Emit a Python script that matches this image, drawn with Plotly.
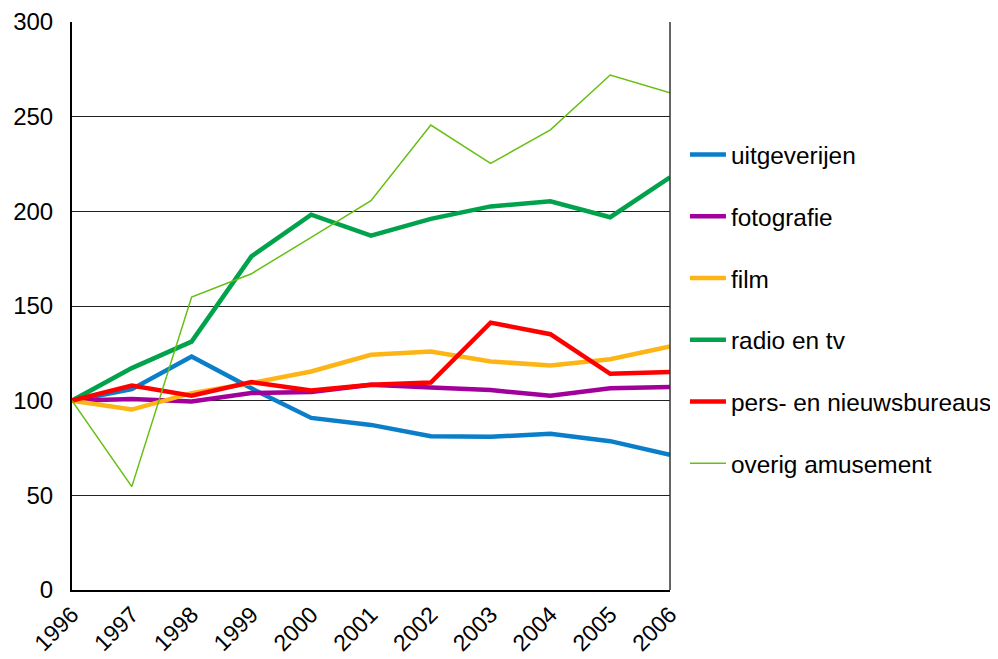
import plotly.graph_objects as go

years = [1996, 1997, 1998, 1999, 2000, 2001, 2002, 2003, 2004, 2005, 2006]
uitgeverijen = [100, 106.1, 123.3, 106.5, 90.9, 87.2, 81.2, 80.9, 82.5, 78.6, 71.4]
fotografie = [100, 100.9, 99.6, 104.0, 104.6, 108.4, 107.0, 105.6, 102.6, 106.5, 107.2]
film = [100, 95.3, 104.0, 109.3, 115.4, 124.2, 126.0, 120.7, 118.6, 121.9, 128.6]
radio_en_tv = [100, 117.2, 131.2, 176.2, 198.2, 187.2, 196.0, 202.6, 205.3, 196.9, 218.0]
pers_nieuws = [100, 108.0, 102.6, 109.8, 105.4, 108.4, 109.6, 141.2, 135.1, 114.2, 115.1]
overig = [100, 54.6, 154.7, 167.0, 186.3, 205.6, 245.6, 225.3, 243.0, 272.0, 262.6]

series = [
    ("uitgeverijen", uitgeverijen, "#0A7EC8", 4.5),
    ("fotografie", fotografie, "#A2009A", 4.5),
    ("film", film, "#FDB515", 4.5),
    ("radio en tv", radio_en_tv, "#00A24B", 4.5),
    ("pers- en nieuwsbureaus", pers_nieuws, "#FF0000", 4.5),
    ("overig amusement", overig, "#66BF12", 1.5),
]

fig = go.Figure()
for i, (name, vals, col, w) in enumerate(series):
    fig.add_trace(go.Scatter(x=years, y=vals, name=name, mode="lines",
                             line=dict(color=col, width=w), legendgroup=str(i)))

fig.update_layout(
    width=990, height=651,
    margin=dict(l=64, r=328, t=14, b=69, autoexpand=False),
    plot_bgcolor="white", paper_bgcolor="white",
    font=dict(family="Liberation Sans, Arial, sans-serif", size=24, color="black"),
    showlegend=True,
    legend=dict(x=1.025, y=0.806, xanchor="left", yanchor="top",
                traceorder="grouped", tracegroupgap=27,
                font=dict(size=24.4), itemwidth=36),
    xaxis=dict(range=[1996, 2006], dtick=1, tickangle=-45, showgrid=False,
               showline=True, linecolor="black", linewidth=2, ticks="",
               zeroline=False, tickfont=dict(size=23)),
    yaxis=dict(range=[0, 300], dtick=50, showgrid=True, gridcolor="#222222",
               gridwidth=1, showline=True, linecolor="black", linewidth=2,
               ticks="", zeroline=False, tickfont=dict(size=24),
               ticklabelstandoff=12),
    shapes=[dict(type="line", xref="paper", yref="paper", x0=1, x1=1, y0=0, y1=1,
                 line=dict(color="#333333", width=1.5))],
)

fig.write_html("out.html")
